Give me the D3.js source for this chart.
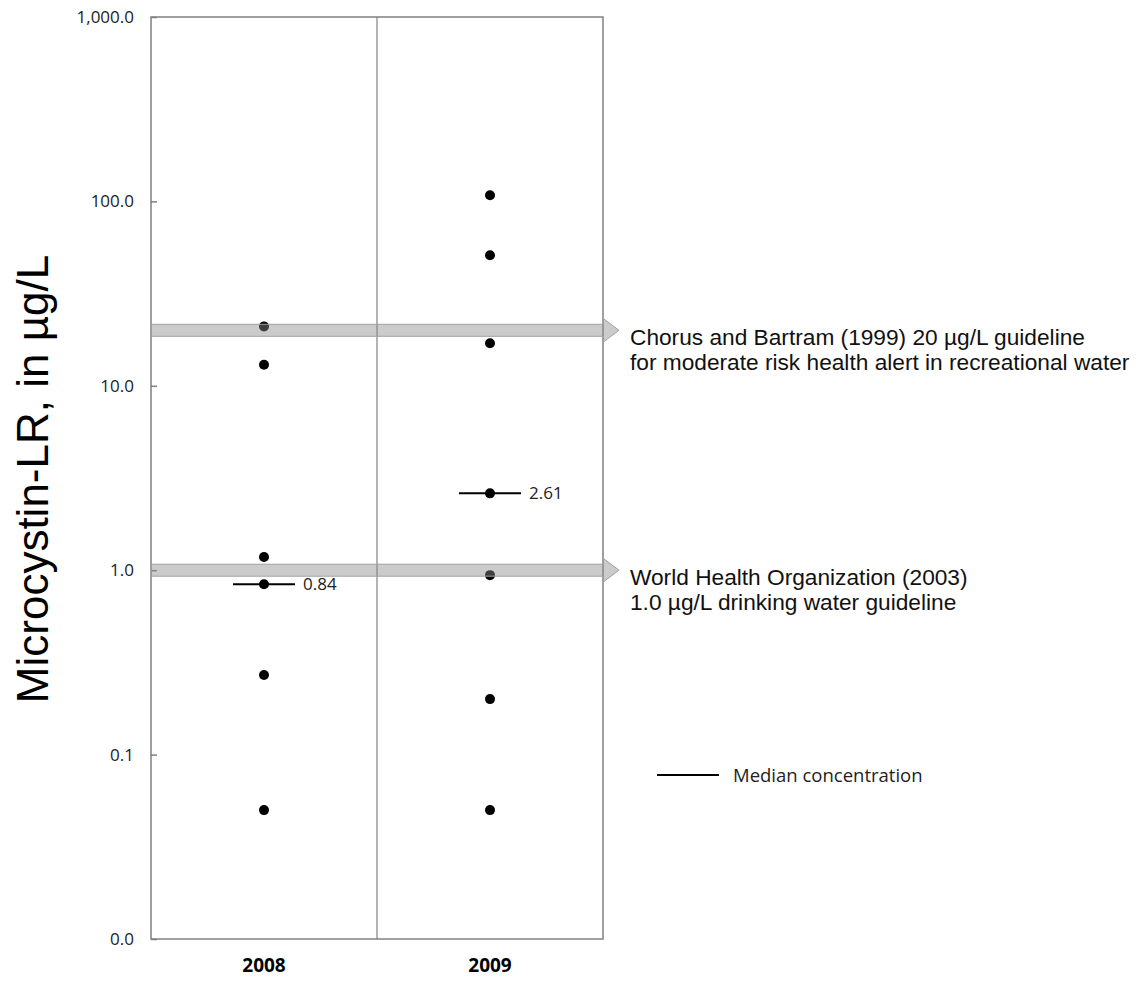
<!DOCTYPE html>
<html lang="en">
  <head>
    <meta charset="UTF-8" />
    <title>Microcystin-LR concentrations, 2008-2009</title>
    <script src="https://d3js.org/d3.v7.min.js"></script>
    <style>
      body {
        margin: 0;
        background: #fff;
      }
      .tick text {
        font-family: 'Open Sans', sans-serif;
        font-size: 17px;
        fill: #222;
      }
    </style>
  </head>
  <body>
    <div id="chart"></div>
    <script>
      // data
      const years = ['2008', '2009'];
      const conc2008 = [21, 13, 1.18, 0.84, 0.27, 0.05];
      const conc2009 = [108, 51, 17, 2.61, 0.94, 0.2, 0.05];
      const medians = [0.84, 2.61];
      const medianLabels = ['0.84', '2.61'];
      const yTickValues = [0.01, 0.1, 1, 10, 100, 1000];
      const yTickLabels = ['0.0', '0.1', '1.0', '10.0', '100.0', '1,000.0'];
      const guidelineValues = [20, 1.0];
      const guidelineText = [
        ['Chorus and Bartram (1999) 20 µg/L guideline', 'for moderate risk health alert in recreational water'],
        ['World Health Organization (2003)', '1.0 µg/L drinking water guideline']
      ];

      const W = 1136, H = 981;
      const plot = { left: 151, right: 603, top: 17, bottom: 939 };

      const svg = d3.select('#chart').append('svg')
        .attr('width', W)
        .attr('height', H);

      const x = d3.scaleBand().domain(years).range([plot.left, plot.right]).paddingInner(0);
      const y = d3.scaleLog().domain([0.01, 1000]).range([plot.bottom, plot.top]);

      // y axis, ticks pointing into the plot
      const yAxis = svg.append('g')
        .attr('transform', `translate(${plot.left},0)`)
        .call(d3.axisLeft(y)
          .tickValues(yTickValues)
          .tickFormat((d, i) => yTickLabels[i])
          .tickSize(-6)
          .tickPadding(17));
      yAxis.select('.domain').remove();
      yAxis.selectAll('.tick line').attr('stroke', '#808080').attr('stroke-width', 1.5);

      // frame and year divider
      svg.append('rect')
        .attr('x', plot.left).attr('y', plot.top)
        .attr('width', plot.right - plot.left).attr('height', plot.bottom - plot.top)
        .attr('fill', 'none').attr('stroke', '#808080').attr('stroke-width', 1.5);
      svg.append('line')
        .attr('x1', x('2009')).attr('x2', x('2009'))
        .attr('y1', plot.top).attr('y2', plot.bottom)
        .attr('stroke', '#808080').attr('stroke-width', 1.2);

      // x labels
      svg.selectAll('.year').data(years).enter().append('text')
        .attr('x', d => x(d) + x.bandwidth() / 2)
        .attr('y', 972)
        .attr('text-anchor', 'middle')
        .style('font-family', "'Open Sans', sans-serif")
        .style('font-weight', 'bold')
        .style('font-size', '19px')
        .text(d => d);

      // points
      const series = [conc2008, conc2009];
      series.forEach((vals, i) => {
        const cx = x(years[i]) + x.bandwidth() / 2;
        svg.append('g').selectAll('circle').data(vals).enter().append('circle')
          .attr('cx', cx)
          .attr('cy', d => y(d))
          .attr('r', 5)
          .attr('fill', '#000');
      });

      // medians
      medians.forEach((m, i) => {
        const cx = x(years[i]) + x.bandwidth() / 2;
        svg.append('line')
          .attr('x1', cx - 31).attr('x2', cx + 31)
          .attr('y1', y(m)).attr('y2', y(m))
          .attr('stroke', '#000').attr('stroke-width', 2);
        svg.append('text')
          .attr('x', cx + 39)
          .attr('y', y(m) + 6)
          .style('font-family', "'Open Sans', sans-serif")
          .style('font-size', '17px')
          .attr('fill', '#222')
          .text(medianLabels[i]);
      });

      // guideline arrows (semi-transparent, drawn over the points)
      guidelineValues.forEach((g, i) => {
        const yy = y(g);
        const x0 = plot.left, x1 = plot.right, x2 = plot.right + 16;
        const path = d3.path();
        path.moveTo(x0, yy - 6);
        path.lineTo(x1, yy - 6);
        path.lineTo(x1, yy - 12);
        path.lineTo(x2, yy);
        path.lineTo(x1, yy + 12);
        path.lineTo(x1, yy + 6);
        path.lineTo(x0, yy + 6);
        path.closePath();
        svg.append('path')
          .attr('d', path.toString())
          .attr('fill', '#8c8c8c')
          .attr('fill-opacity', 0.45)
          .attr('stroke', '#a0a0a0')
          .attr('stroke-width', 1);

        guidelineText[i].forEach((t, j) => {
          svg.append('text')
            .attr('x', 630)
            .attr('y', yy + 15 + j * 25)
            .style('font-family', "'Liberation Sans', Arial, sans-serif")
            .style('font-size', '22.7px')
            .attr('fill', '#111')
            .text(t);
        });
      });

      // legend
      svg.append('line')
        .attr('x1', 657).attr('x2', 719)
        .attr('y1', 775).attr('y2', 775)
        .attr('stroke', '#000').attr('stroke-width', 2);
      svg.append('text')
        .attr('x', 733).attr('y', 782)
        .style('font-family', "'Open Sans', sans-serif")
        .style('font-size', '18.5px')
        .attr('fill', '#222')
        .text('Median concentration');

      // y title
      svg.append('text')
        .attr('transform', `translate(48, 479) rotate(-90)`)
        .attr('text-anchor', 'middle')
        .style('font-family', "'Liberation Sans', Arial, sans-serif")
        .style('font-size', '44px')
        .attr('fill', '#000')
        .text('Microcystin-LR, in µg/L');
    </script>
  </body>
</html>
